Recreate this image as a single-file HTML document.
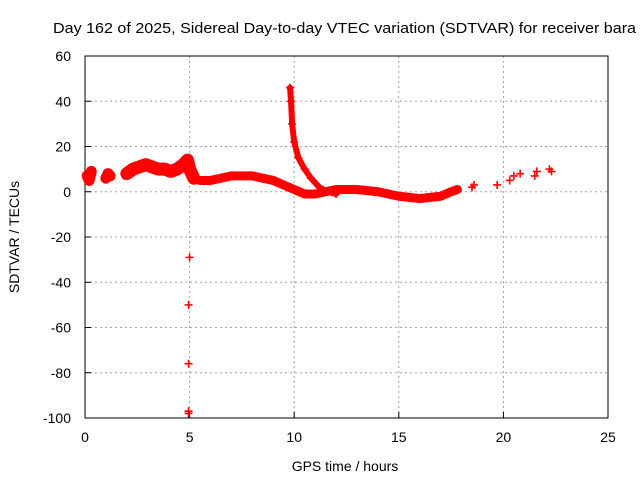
<!DOCTYPE html>
<html><head><meta charset="utf-8"><style>
body{margin:0;background:#fff}
svg{display:block;font-family:"Liberation Sans",sans-serif}
</style></head><body>
<svg id="chart" width="640" height="480">
<rect x="0" y="0" width="640" height="480" fill="#fff"/>
<text x="53" y="33" font-size="15" textLength="583" lengthAdjust="spacingAndGlyphs">Day 162 of 2025, Sidereal Day-to-day VTEC variation (SDTVAR) for receiver bara</text>
<g id="grid"></g>
<g id="axes"></g>
<g id="marks"></g>
<text x="345" y="471" font-size="14" text-anchor="middle">GPS time / hours</text>
<text transform="translate(19,237) rotate(-90)" font-size="14" text-anchor="middle">SDTVAR / TECUs</text>
</svg>
<script>
const xTicks=[0,5,10,15,20,25];
const yTicks=[60,40,20,0,-20,-40,-60,-80,-100];
const mainT=[0.1,0.2,0.3,1.0,1.1,1.2,2.0,2.3,2.6,2.9,3.2,3.5,3.8,4.1,4.4,4.7,4.9,5.0,5.2,5.5,6.0,6.5,7.0,7.5,8.0,8.5,9.0,9.5,10.0,10.5,11.0,11.5,12,12.5,13,13.5,14,14.5,15,15.5,16,16.5,17,17.5,17.8];
const mainV=[7,5,9,6,8,7,8,10,11,12,11,10,10,9,10,12,14,10,6,5,5,6,7,7,7,6,5,3,1,-1,-1,0,1,1,1,0.5,0,-1,-2,-2.5,-3,-2.5,-2,0,1];
const spikeT=[9.8,9.85,9.9,10.0,10.2,10.5,10.8,11.2,11.6,12];
const spikeV=[46,40,30,22,15,10,6,2,0,-1];
const sparseT=[18.5,18.6,19.7,20.3,20.5,20.8,21.5,21.6,22.2,22.3];
const sparseV=[2,3,3,5,7,8,7,9,10,9];
const outT=[5.0,4.95,4.95,4.95,4.95];
const outV=[-29,-50,-76,-97,-98];
const X0=85,X1=608,Y0=56,Y1=418;
const sx=t=>X0+(t-0)/(25-0)*(X1-X0);
const sy=v=>Y0+(60-v)/(160)*(Y1-Y0);
const NS="http://www.w3.org/2000/svg";
function mk(tag,attrs,parent){const e=document.createElementNS(NS,tag);for(const k in attrs)e.setAttribute(k,attrs[k]);parent.appendChild(e);return e;}
const grid=document.getElementById('grid'),axes=document.getElementById('axes'),marks=document.getElementById('marks');
xTicks.forEach(t=>{
 if(t>0&&t<25){const l=mk('line',{x1:sx(t),x2:sx(t),y1:Y0,y2:Y1,stroke:'#a0a0a0','stroke-dasharray':'2,3'},grid);
 
 }
 mk('line',{x1:sx(t),x2:sx(t),y1:Y1,y2:Y1-6,stroke:'#000'},axes);
 const tx=mk('text',{x:sx(t),y:Y1+24,'font-size':14,'text-anchor':'middle'},axes);tx.textContent=t;
 
 
});
yTicks.forEach(v=>{
 if(v<60&&v>-100){const l=mk('line',{x1:X0,x2:X1,y1:sy(v),y2:sy(v),stroke:'#a0a0a0','stroke-dasharray':'2,3'},grid);
 
 }
 mk('line',{x1:X0,x2:X0+6,y1:sy(v),y2:sy(v),stroke:'#000'},axes);
 const tx=mk('text',{x:71,y:sy(v)+5,'font-size':14,'text-anchor':'end'},axes);tx.textContent=v;
 
 
});
mk('rect',{x:X0,y:Y0,width:X1-X0,height:Y1-Y0,fill:'none',stroke:'#000','stroke-width':1},axes);
function band(T,V,name,w){
 const p=mk('polyline',{points:T.map((t,i)=>sx(t)+','+sy(V[i])).join(' '),fill:'none',stroke:'#f00','stroke-width':w,'stroke-linejoin':'round','stroke-linecap':'round'},marks);
 
 
}
function pts(T,V,name){
 T.forEach((t,i)=>{const x=sx(t),y=sy(V[i]);
  const p=mk('path',{d:`M${x-4},${y}h8M${x},${y-4}v8`,stroke:'#f00','stroke-width':1.6},marks);
  
  });
}
band(mainT.slice(0,3),mainV.slice(0,3),'main-band',11);
band(mainT.slice(3,6),mainV.slice(3,6),'main-band',11);
band(mainT.slice(6,19),mainV.slice(6,19),'main-band',13);
band(mainT.slice(18),mainV.slice(18),'main-band',9);
band(spikeT,spikeV,'spike-band',6);
pts(mainT,mainV,'main-point');
pts(spikeT,spikeV,'spike-point');
pts(sparseT,sparseV,'sparse-point');
pts(outT,outV,'outlier-point');
</script>
</body></html>
